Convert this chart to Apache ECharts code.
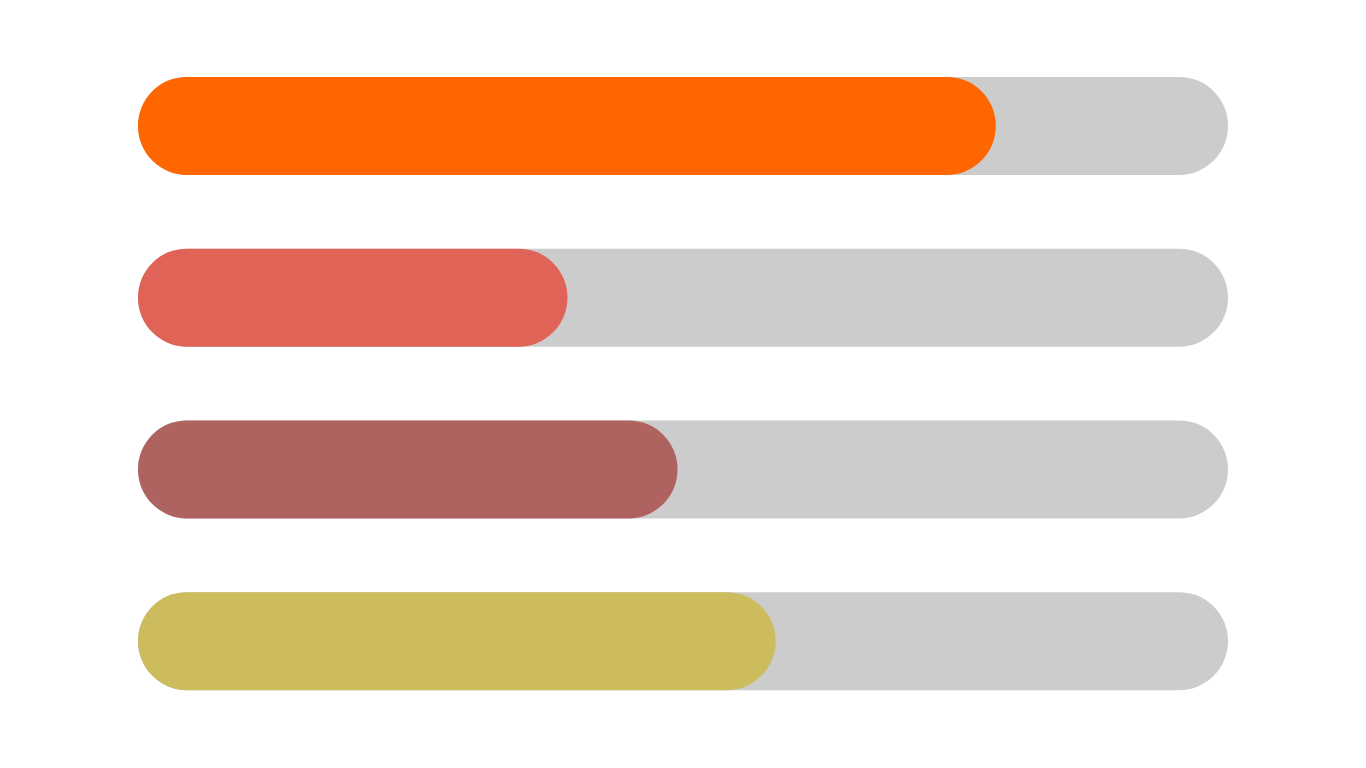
<!DOCTYPE html>
<html>
<head>
<meta charset="utf-8">
<script src="https://cdn.jsdelivr.net/npm/echarts@6/dist/echarts.min.js"></script>
<style>html,body{margin:0;padding:0;background:#fff;}#main{width:1366px;height:768px;}</style>
</head>
<body>
<div id="main"></div>
<script>
const categories = ['A', 'B', 'C', 'D'];
const values = [78.7, 39.4, 49.5, 58.5];
const maxValues = [100, 100, 100, 100];
const colors = ['#FF6600', '#DF6356', '#AF6361', '#CCBC5E'];

const chart = echarts.init(document.getElementById('main'));
chart.setOption({
  animation: false,
  backgroundColor: '#ffffff',
  grid: { left: 138, right: 138, top: 40, bottom: 41 },
  xAxis: { type: 'value', min: 0, max: 100, show: false },
  yAxis: { type: 'category', data: categories, inverse: true, show: false },
  series: [
    {
      type: 'bar',
      data: maxValues,
      barWidth: 98,
      barGap: '-100%',
      silent: true,
      z: 1,
      itemStyle: { color: '#CCCCCC', borderRadius: 49 }
    },
    {
      type: 'bar',
      data: values.map((v, i) => ({ value: v, itemStyle: { color: colors[i] } })),
      barWidth: 98,
      z: 2,
      itemStyle: { borderRadius: 49 }
    }
  ]
});
</script>
</body>
</html>
